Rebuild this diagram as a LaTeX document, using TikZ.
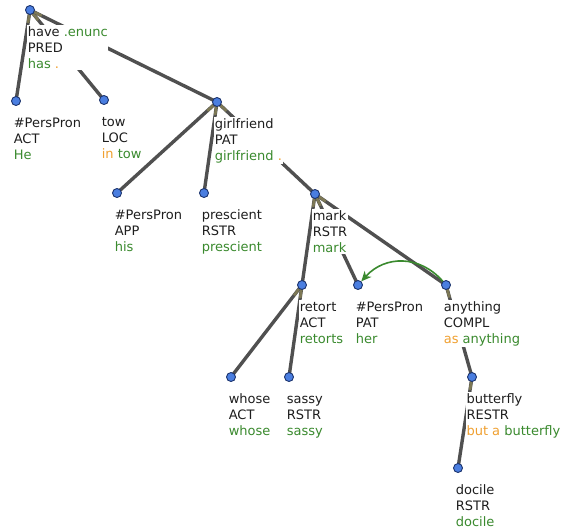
\documentclass[tikz,border=0pt]{standalone}
\usepackage{fontspec}
\setmainfont{DejaVu Sans}
\usetikzlibrary{arrows.meta,backgrounds,calc}
\definecolor{tgreen}{RGB}{58,138,46}
\definecolor{torange}{RGB}{240,160,48}
\definecolor{tblack}{RGB}{30,30,30}
\definecolor{edgegray}{RGB}{80,80,80}
\definecolor{stubcol}{RGB}{125,120,85}
\definecolor{dotfill}{RGB}{74,126,224}
\definecolor{dotline}{RGB}{28,52,110}
\newcommand{\gr}[1]{\textcolor{tgreen}{#1}}
\newcommand{\orn}[1]{\textcolor{torange}{#1}}
\tikzset{
  dot/.style={circle,fill=dotfill,draw=dotline,line width=0.9pt,minimum size=9pt,inner sep=0pt},
  lbl/.style={anchor=north west,align=left,fill=white,inner sep=0.6pt,text=tblack,
    font=\fontsize{13}{16}\selectfont},
  edge/.style={draw=edgegray,line width=3.4pt},
  stub/.style={draw=stubcol,line width=2.6pt},
  coref/.style={draw=tgreen,line width=1.6pt,-{Stealth[length=10pt,width=9pt,inset=3pt]}}
}
\newcommand{\st}{\rule{0pt}{11pt}}
\newcommand{\tedge}[2]{\draw[edge] (#1.center) -- (#2.center);
  \draw[stub] (#1.center) -- ($(#1.center)!13pt!(#2.center)$);}
\begin{document}
\begin{tikzpicture}[x=1pt,y=-1pt]
\useasboundingbox (0,0) rectangle (561,531);
% tree nodes
\node[dot] (have) at (30,10) {};
\node[dot] (act) at (16,101) {};
\node[dot] (tow) at (104,100) {};
\node[dot] (girl) at (217,102) {};
\node[dot] (app) at (117,193) {};
\node[dot] (presc) at (204,193) {};
\node[dot] (mark) at (315,194) {};
\node[dot] (retort) at (302,285) {};
\node[dot] (pat) at (358,285) {};
\node[dot] (anything) at (446,285) {};
\node[dot] (whose) at (231,377) {};
\node[dot] (sassy) at (289,377) {};
\node[dot] (butterfly) at (472,377) {};
\node[dot] (docile) at (458,468) {};
% labels
\node[lbl] (have-l) at (27,25) {\st have \gr{.enunc}\\PRED\\\gr{has} \orn{.}};
\node[lbl] (act-l) at (13,116) {\st\#PersPron\\ACT\\\gr{He}};
\node[lbl] (tow-l) at (101,115) {\st tow\\LOC\\\orn{in} \gr{tow}};
\node[lbl] (girl-l) at (214,117) {\st girlfriend\\PAT\\\gr{girlfriend} \orn{.}};
\node[lbl] (app-l) at (114,208) {\st\#PersPron\\APP\\\gr{his}};
\node[lbl] (presc-l) at (201,208) {\st prescient\\RSTR\\\gr{prescient}};
\node[lbl] (mark-l) at (312,209) {\st mark\\RSTR\\\gr{mark}};
\node[lbl] (retort-l) at (299,300) {\st retort\\ACT\\\gr{retorts}};
\node[lbl] (pat-l) at (355,300) {\st\#PersPron\\PAT\\\gr{her}};
\node[lbl] (anything-l) at (443,300) {\st anything\\COMPL\\\orn{as} \gr{anything}};
\node[lbl] (whose-l) at (228,392) {\st whose\\ACT\\\gr{whose}};
\node[lbl] (sassy-l) at (286,392) {\st sassy\\RSTR\\\gr{sassy}};
\node[lbl,inner sep=0.3pt] (butterfly-l) at (466,392) {\st butterfly\\RESTR\\\orn{but a} \gr{butterfly}};
\node[lbl] (docile-l) at (455,483) {\st docile\\RSTR\\\gr{docile}};
% edges
\begin{pgfonlayer}{background}
\tedge{have}{act}
\tedge{have}{tow}
\tedge{have}{girl}
\tedge{girl}{app}
\tedge{girl}{presc}
\tedge{girl}{mark}
\tedge{mark}{retort}
\tedge{mark}{pat}
\tedge{mark}{anything}
\tedge{retort}{whose}
\tedge{retort}{sassy}
\tedge{anything}{butterfly}
\tedge{butterfly}{docile}
\end{pgfonlayer}
% coreference arrow
\draw[coref] (anything) .. controls (420,255) and (385,255) .. (pat);
\end{tikzpicture}
\end{document}
